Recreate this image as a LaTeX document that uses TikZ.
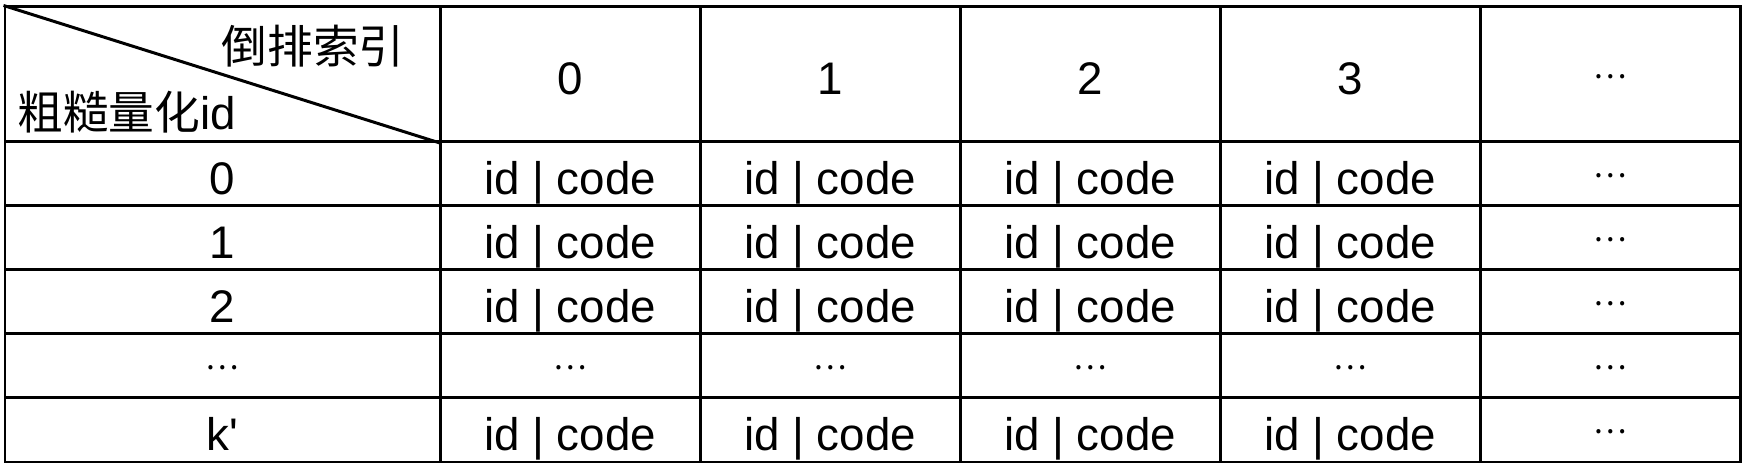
\documentclass[tikz,border=0pt]{standalone}
\usepackage{fontspec}
\setmainfont{Liberation Sans}
\newfontfamily\cjk{Noto Sans CJK SC}
\newcommand{\dd}{\raisebox{1.65mm}{\fontsize{9}{9}\selectfont\cjk …}}

\begin{document}
\begin{tikzpicture}[line width=0.85pt,font=\fontsize{13}{15}\selectfont,
  cell/.style={draw, minimum width=2.6cm, minimum height=0.64cm, inner sep=0pt,
    text height=0.41cm, text depth=0cm}]

\useasboundingbox (0,0) rectangle (17.5,4.74);

% corner cell with the diagonal
\node (corner) at (2.225,3.995) [cell, minimum width=4.35cm, minimum height=1.35cm] {};
\path (corner.north west) edge (corner.south east);

\node (inv) at (4.06,4.28) [anchor=east, inner sep=0pt] {\cjk 倒排索引};
\node (coarse) at (0.16,3.62) [anchor=west, inner sep=0pt] {{\cjk 粗糙量化}id};

% header row
\foreach \h [count=\k] in {0,1,2,3,\dd}
  \node (h\k) at (3.1+2.6*\k,3.995) [cell, minimum height=1.35cm] {\h};

% body rows
\foreach \lab/\txt [count=\j] in {0/id | code, 1/id | code, 2/id | code, \dd/\dd, k\textquotesingle/id | code}
{
  \node (r\j) at (2.225,3.64-0.64*\j) [cell, minimum width=4.35cm] {\lab};
  \foreach \k in {1,...,4}
    \node (c\j\k) at (3.1+2.6*\k,3.64-0.64*\j) [cell] {\txt};
  \node (c\j5) at (16.1,3.64-0.64*\j) [cell] {\dd};
}

\end{tikzpicture}
\end{document}
